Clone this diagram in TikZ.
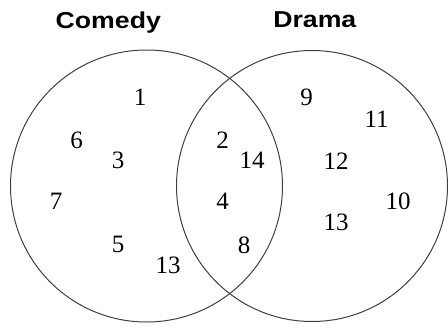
\documentclass[tikz,border=0pt]{standalone}
\usepackage{fontspec}
\setmainfont{Liberation Serif}
\newfontfamily\headfont{Liberation Sans}
\begin{document}
\begin{tikzpicture}[x=1pt, y=-1pt,
  setcircle/.style={circle, draw=black!75, line width=1pt, minimum size=272pt, inner sep=0pt},
  num/.style={inner sep=0pt, font=\fontsize{25}{25}\selectfont},
  title/.style={inner sep=0pt, anchor=base, xscale=1.16, font=\headfont\bfseries\fontsize{23}{23}\selectfont}]
\useasboundingbox (0,0) rectangle (448,327);
% sets
\node[setcircle] (comedyset) at (146.5,186) {};
\node[setcircle, minimum size=271pt] (dramaset) at (312,186) {};
\node[title] (comedy) at (108.3,28.6) {Comedy};
\node[title] (drama) at (314.8,27.4) {Drama};
% comedy only
\node[num] (n1) at (140,97.5) {1};
\node[num] (n6) at (76.7,140) {6};
\node[num] (n3) at (118,160.5) {3};
\node[num] (n7) at (56,201.7) {7};
\node[num] (n5) at (118,244) {5};
\node[num] (c13) at (168,265.5) {13};
% both
\node[num] (n2) at (222.7,140) {2};
\node[num] (n14) at (252,160.5) {14};
\node[num] (n4) at (222.7,201.7) {4};
\node[num] (n8) at (244,245) {8};
% drama only
\node[num] (n9) at (306.7,97.3) {9};
\node[num] (n11) at (376.7,119) {11};
\node[num] (n12) at (336,161) {12};
\node[num] (n10) at (398,201.7) {10};
\node[num] (d13) at (336,222.7) {13};
\end{tikzpicture}
\end{document}
